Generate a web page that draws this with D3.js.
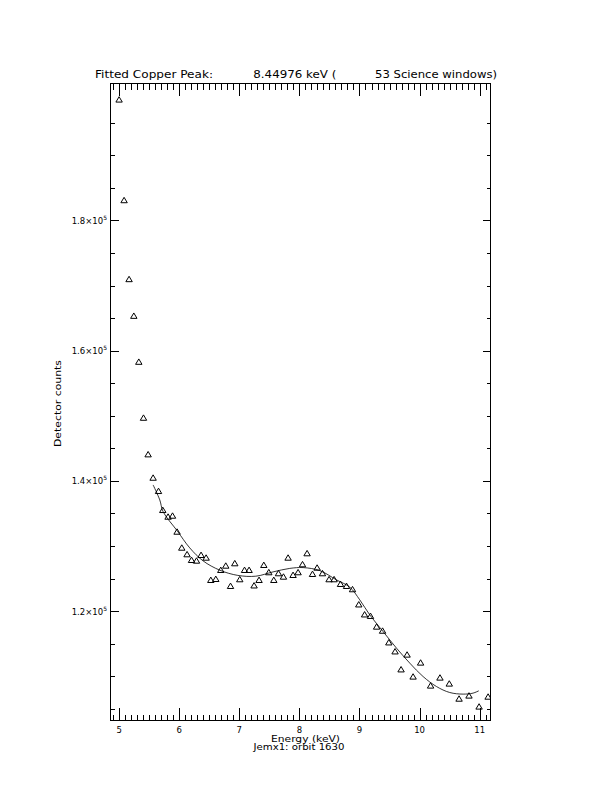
<!DOCTYPE html>
<html>
<head>
<meta charset="utf-8">
<script src="https://cdn.jsdelivr.net/npm/d3@7"></script>
<style>
  html, body { margin: 0; padding: 0; background: #fff; }
  svg { display: block; }
  text { font-family: "DejaVu Sans", sans-serif; fill: #000; }
</style>
</head>
<body>
<svg id="chart" width="612" height="792"></svg>
<script>
// ---- data ----
const energy = [5.000,5.083,5.166,5.245,5.328,5.406,5.483,5.566,5.656,5.727,
  5.815,5.889,5.965,6.043,6.131,6.205,6.288,6.364,6.448,6.526,
  6.609,6.692,6.775,6.854,6.925,7.008,7.087,7.163,7.246,7.329,
  7.408,7.491,7.574,7.652,7.735,7.812,7.895,7.978,8.052,8.128,
  8.218,8.295,8.384,8.494,8.577,8.684,8.784,8.884,8.988,9.085,
  9.183,9.285,9.384,9.488,9.592,9.692,9.792,9.892,10.017,10.183,
  10.339,10.494,10.657,10.822,10.990,11.140];
const counts = [198567,183115,170993,165361,158303,149710,144094,140503,138462,135547,
  134519,134672,132217,129762,128749,127875,127767,128642,128228,124806,
  124959,126340,127000,123885,127368,124913,126340,126340,123962,124806,
  127108,125987,124806,125834,125312,128228,125573,125987,127215,128903,
  125727,126693,125834,124913,124913,124192,123885,123379,121047,119512,
  119282,117640,117011,115216,113835,111073,113344,109968,112116,108587,
  109814,108894,106577,107052,105364,106884];
const fitEnergy = [5.566,5.677,5.732,5.968,6.176,6.398,6.676,6.975,7.275,7.562,
  7.840,8.062,8.339,8.617,8.839,9.005,9.171,9.393,9.616,9.837,
  10.058,10.281,10.502,10.724,10.890,10.985];
const fitCounts = [139383,137081,135286,132325,129716,127721,126294,125496,125373,126033,
  126570,126693,126233,124806,123686,121737,119435,116873,114326,112024,
  109968,108433,107513,107267,107420,107774];
const xMajorTicks = [5,6,7,8,9,10,11];
const xTickLabels = ["5","6","7","8","9","10","11"];
const yMajorTicks = [120000,140000,160000,180000];
const yTickMantissa = ["1.2","1.4","1.6","1.8"];
const yTickExponent = "5";
const titleParts = ["Fitted Copper Peak:", "8.44976 keV (", "53 Science windows)"];
const xTitle = "Energy (keV)";
const subTitle = "Jemx1: orbit 1630";
const yTitle = "Detector counts";

// ---- layout ----
const L = 110.5, R = 490.5, T = 83.5, B = 720.5;
const svg = d3.select("#chart");
const x = d3.scaleLinear().domain([4.857, 11.180]).range([L, R]);
const y = d3.scaleLinear().domain([103216, 201022]).range([B, T]);

const xMinor = d3.range(49, 112).map(d => d / 10).filter(d => !xMajorTicks.includes(d) && x(d) > L && x(d) < R);
const yMinor = d3.range(21, 40).map(d => d * 5000).filter(d => !yMajorTicks.includes(d) && y(d) > T && y(d) < B);

const axisStyle = g => {
  g.select(".domain").remove();
  g.selectAll("line").attr("stroke", "#000").attr("stroke-width", 1).attr("shape-rendering", "crispEdges");
};

// bottom
svg.append("g").attr("transform", `translate(0,${B})`)
  .call(d3.axisTop(x).tickValues(xMajorTicks).tickSize(12.5).tickFormat(""))
  .call(axisStyle);
svg.append("g").attr("transform", `translate(0,${B})`)
  .call(d3.axisTop(x).tickValues(xMinor).tickSize(6).tickFormat(""))
  .call(axisStyle);
// top
svg.append("g").attr("transform", `translate(0,${T})`)
  .call(d3.axisBottom(x).tickValues(xMajorTicks).tickSize(12.5).tickFormat(""))
  .call(axisStyle);
svg.append("g").attr("transform", `translate(0,${T})`)
  .call(d3.axisBottom(x).tickValues(xMinor).tickSize(6).tickFormat(""))
  .call(axisStyle);
// left
svg.append("g").attr("transform", `translate(${L},0)`)
  .call(d3.axisRight(y).tickValues(yMajorTicks).tickSize(8).tickFormat(""))
  .call(axisStyle);
svg.append("g").attr("transform", `translate(${L},0)`)
  .call(d3.axisRight(y).tickValues(yMinor).tickSize(4).tickFormat(""))
  .call(axisStyle);
// right
svg.append("g").attr("transform", `translate(${R},0)`)
  .call(d3.axisLeft(y).tickValues(yMajorTicks).tickSize(8).tickFormat(""))
  .call(axisStyle);
svg.append("g").attr("transform", `translate(${R},0)`)
  .call(d3.axisLeft(y).tickValues(yMinor).tickSize(4).tickFormat(""))
  .call(axisStyle);

// frame
svg.append("rect").attr("x", L).attr("y", T).attr("width", R - L).attr("height", B - T)
  .attr("fill", "none").attr("stroke", "#000").attr("stroke-width", 1).attr("shape-rendering", "crispEdges");

// x tick labels
svg.append("g").selectAll("text").data(xMajorTicks).join("text")
  .attr("x", d => x(d)).attr("y", 732.5).attr("text-anchor", "middle")
  .attr("font-size", 8.5).text((d, i) => xTickLabels[i]);

// y tick labels
const yl = svg.append("g").selectAll("text").data(yMajorTicks).join("text")
  .attr("x", 107).attr("y", d => y(d) + 3.5).attr("text-anchor", "end")
  .attr("font-size", 8.5);
yl.append("tspan").text((d, i) => yTickMantissa[i] + "\u00d710");
yl.append("tspan").attr("dy", -4).attr("font-size", 6).text(yTickExponent);

// titles
const titleX = [95, 253.3, 375];
const titleW = [118, 83, 122];
svg.append("g").selectAll("text").data(titleParts).join("text")
  .attr("x", (d, i) => titleX[i]).attr("y", 78)
  .attr("font-size", 10).attr("textLength", (d, i) => titleW[i]).attr("lengthAdjust", "spacingAndGlyphs")
  .text(d => d);

svg.append("text").attr("x", 271).attr("y", 741.5).attr("font-size", 8.5)
  .attr("textLength", 69).attr("lengthAdjust", "spacingAndGlyphs").text(xTitle);
svg.append("text").attr("x", 253.5).attr("y", 750).attr("font-size", 8.5)
  .attr("textLength", 91).attr("lengthAdjust", "spacingAndGlyphs").text(subTitle);
svg.append("text").attr("transform", "translate(61,447) rotate(-90)").attr("font-size", 9)
  .attr("textLength", 87).attr("lengthAdjust", "spacingAndGlyphs").text(yTitle);

// clip
svg.append("clipPath").attr("id", "clip").append("rect")
  .attr("x", L).attr("y", T).attr("width", R - L).attr("height", B - T);

// fit curve
const fit = fitEnergy.map((e, i) => [e, fitCounts[i]]);
svg.append("path").datum(fit)
  .attr("d", d3.line().x(d => x(d[0])).y(d => y(d[1])).curve(d3.curveCatmullRom.alpha(0.5)))
  .attr("fill", "none").attr("stroke", "#000").attr("stroke-width", 0.8);

// triangles
const tri = "M-3.2,2.6L0,-2.8L3.2,2.6Z";
svg.append("g").attr("clip-path", "url(#clip)").selectAll("path").data(energy).join("path")
  .attr("transform", (d, i) => `translate(${x(d)},${y(counts[i])})`)
  .attr("d", tri).attr("fill", "none").attr("stroke", "#000").attr("stroke-width", 1);
</script>
</body>
</html>
